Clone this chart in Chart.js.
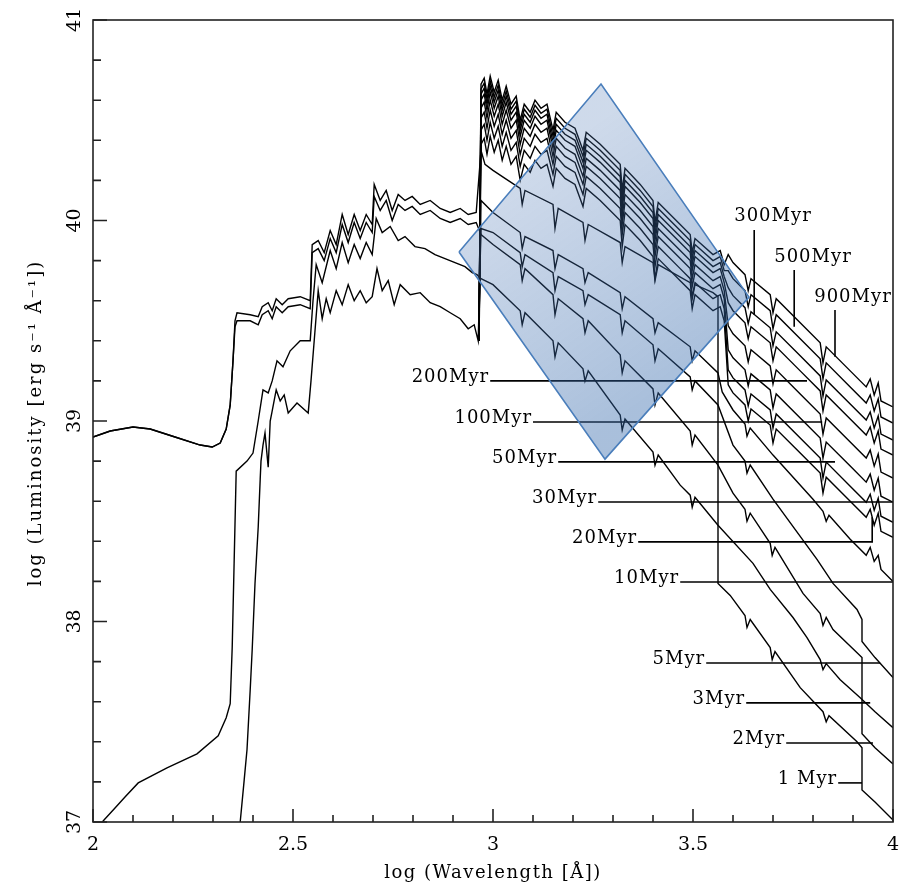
<!DOCTYPE html>
<html>
<head>
<meta charset="utf-8">
<script src="https://cdn.jsdelivr.net/npm/chart.js@4.4.1/dist/chart.umd.min.js"></script>
<style>
  html, body { margin: 0; padding: 0; background: #fff; }
  canvas { display: block; }
</style>
</head>
<body>
<canvas id="sedChart" width="900" height="887"></canvas>
<script>
// axis ticks
const xTickValues = [2, 2.5, 3, 3.5, 4];
const xTickLabels = ['2', '2.5', '3', '3.5', '4'];
const xMinorTicks = [2.1, 2.2, 2.3, 2.4, 2.6, 2.7, 2.8, 2.9, 3.1, 3.2, 3.3, 3.4, 3.6, 3.7, 3.8, 3.9];
const yTickValues = [37, 38, 39, 40, 41];
const yTickLabels = ['37', '38', '39', '40', '41'];
const yMinorTicks = [37.2, 37.4, 37.6, 37.8, 38.2, 38.4, 38.6, 38.8, 39.2, 39.4, 39.6, 39.8, 40.2, 40.4, 40.6, 40.8];

// old populations share one wavelength grid (they start at the Lyman limit)
const oldWave = [2.965, 2.970, 2.978, 2.985, 2.993, 3.003, 3.013, 3.023, 3.033, 3.045, 3.058, 3.068, 3.078, 3.093, 3.105, 3.120, 3.135,
  3.150, 3.158, 3.180, 3.205, 3.225, 3.233, 3.268, 3.318, 3.323, 3.330, 3.368, 3.400, 3.405, 3.413, 3.468, 3.493, 3.498, 3.505, 3.550, 3.568, 3.578,
  3.588, 3.600, 3.630, 3.638, 3.645, 3.693, 3.700, 3.708, 3.768, 3.818, 3.825, 3.833, 3.893, 3.933, 3.943, 3.953, 3.963, 3.970, 4.000];

const lum900Myr = [39.40, 40.68, 40.71, 40.63, 40.72, 40.64, 40.70, 40.60, 40.67, 40.58, 40.62, 40.50, 40.58, 40.54, 40.60, 40.56, 40.58,
  40.45, 40.54, 40.49, 40.46, 40.35, 40.44, 40.38, 40.28, 40.15, 40.26, 40.18, 40.10, 39.99, 40.09, 39.98, 39.93, 39.84, 39.91, 39.83, 39.85, 39.78,
  39.83, 39.79, 39.73, 39.65, 39.71, 39.63, 39.54, 39.61, 39.49, 39.39, 39.29, 39.37, 39.25, 39.17, 39.21, 39.13, 39.19, 39.10, 39.07];
const lum500Myr = [39.40, 40.655, 40.685, 40.605, 40.695, 40.615, 40.675, 40.575, 40.645, 40.555, 40.595, 40.475, 40.555, 40.515, 40.575, 40.535, 40.555,
  40.42, 40.51, 40.46, 40.43, 40.32, 40.41, 40.35, 40.25, 40.12, 40.23, 40.15, 40.07, 39.96, 40.06, 39.95, 39.90, 39.81, 39.88, 39.80, 39.82, 39.75,
  39.75, 39.71, 39.65, 39.57, 39.63, 39.55, 39.46, 39.53, 39.41, 39.31, 39.21, 39.29, 39.17, 39.09, 39.13, 39.05, 39.11, 39.02, 38.99];
const lum300Myr = [39.40, 40.63, 40.66, 40.58, 40.67, 40.59, 40.65, 40.55, 40.62, 40.53, 40.57, 40.45, 40.53, 40.49, 40.55, 40.51, 40.53,
  40.39, 40.48, 40.43, 40.40, 40.29, 40.38, 40.32, 40.22, 40.09, 40.20, 40.12, 40.04, 39.93, 40.03, 39.92, 39.87, 39.78, 39.85, 39.77, 39.79, 39.72,
  39.665, 39.625, 39.565, 39.485, 39.545, 39.465, 39.375, 39.445, 39.325, 39.225, 39.125, 39.205, 39.085, 39.005, 39.045, 38.965, 39.025, 38.935, 38.905];
const lum200Myr = [39.40, 40.60, 40.63, 40.55, 40.64, 40.56, 40.62, 40.52, 40.59, 40.50, 40.54, 40.42, 40.50, 40.46, 40.52, 40.48, 40.50,
  40.36, 40.45, 40.40, 40.37, 40.26, 40.35, 40.29, 40.19, 40.06, 40.17, 40.09, 40.01, 39.90, 40.00, 39.89, 39.84, 39.75, 39.82, 39.74, 39.76, 39.69,
  39.59, 39.55, 39.49, 39.41, 39.47, 39.39, 39.30, 39.37, 39.25, 39.15, 39.05, 39.13, 39.01, 38.93, 38.97, 38.89, 38.95, 38.86, 38.83];
const lum100Myr = [39.40, 40.56, 40.59, 40.51, 40.60, 40.52, 40.58, 40.48, 40.55, 40.46, 40.50, 40.38, 40.46, 40.42, 40.48, 40.44, 40.46,
  40.32, 40.41, 40.36, 40.33, 40.22, 40.31, 40.25, 40.15, 40.02, 40.13, 40.05, 39.97, 39.86, 39.96, 39.85, 39.80, 39.71, 39.78, 39.70, 39.72, 39.65,
  39.475, 39.435, 39.375, 39.295, 39.355, 39.275, 39.185, 39.255, 39.135, 39.035, 38.935, 39.015, 38.895, 38.815, 38.855, 38.775, 38.835, 38.745, 38.715];
const lum50Myr = [39.40, 40.51, 40.54, 40.46, 40.55, 40.47, 40.53, 40.43, 40.50, 40.41, 40.45, 40.33, 40.41, 40.37, 40.43, 40.39, 40.41,
  40.28, 40.37, 40.32, 40.29, 40.18, 40.27, 40.21, 40.11, 39.98, 40.09, 40.01, 39.93, 39.82, 39.92, 39.81, 39.76, 39.67, 39.74, 39.66, 39.68, 39.61,
  39.355, 39.315, 39.255, 39.175, 39.235, 39.155, 39.065, 39.135, 39.015, 38.915, 38.815, 38.895, 38.775, 38.695, 38.735, 38.655, 38.715, 38.625, 38.595];
const lum30Myr = [39.40, 40.45, 40.48, 40.40, 40.49, 40.41, 40.47, 40.37, 40.44, 40.35, 40.39, 40.27, 40.35, 40.31, 40.37, 40.33, 40.35,
  40.23, 40.32, 40.27, 40.24, 40.13, 40.22, 40.16, 40.06, 39.93, 40.04, 39.96, 39.88, 39.77, 39.87, 39.76, 39.71, 39.62, 39.69, 39.61, 39.63, 39.56,
  39.255, 39.215, 39.155, 39.075, 39.135, 39.055, 38.965, 39.035, 38.915, 38.815, 38.715, 38.795, 38.675, 38.595, 38.635, 38.555, 38.615, 38.525, 38.495];
const lum20Myr = [39.40, 40.38, 40.41, 40.33, 40.42, 40.34, 40.40, 40.30, 40.37, 40.28, 40.32, 40.20, 40.28, 40.24, 40.30, 40.26, 40.28,
  40.17, 40.26, 40.21, 40.18, 40.07, 40.16, 40.10, 40.00, 39.87, 39.98, 39.90, 39.82, 39.71, 39.81, 39.70, 39.65, 39.56, 39.63, 39.55, 39.57, 39.50,
  39.18, 39.14, 39.08, 39.00, 39.06, 38.98, 38.89, 38.96, 38.84, 38.74, 38.64, 38.72, 38.60, 38.52, 38.56, 38.48, 38.54, 38.45, 38.42];

// young populations: [log wavelength, log luminosity]
const spec1Myr = [[2.000,38.92],[2.043,38.95],[2.100,38.97],[2.143,38.96],[2.205,38.92],[2.268,38.88],[2.298,38.87],[2.318,38.89],[2.333,38.96],[2.343,39.08],[2.350,39.30],[2.355,39.50],[2.360,39.54],[2.393,39.53],[2.413,39.52],[2.423,39.57],[2.438,39.59],[2.448,39.55],[2.458,39.61],[2.473,39.58],[2.488,39.61],[2.518,39.62],[2.543,39.60],[2.548,39.88],[2.563,39.90],[2.578,39.84],[2.593,39.95],[2.608,39.88],[2.623,40.03],[2.638,39.93],[2.653,40.03],[2.668,39.95],[2.683,40.03],[2.698,39.98],[2.703,40.18],[2.718,40.10],[2.733,40.15],[2.748,40.05],[2.763,40.13],[2.780,40.10],[2.798,40.12],[2.818,40.08],[2.843,40.10],[2.868,40.06],[2.893,40.04],[2.918,40.06],[2.938,40.03],[2.958,40.04],
  [2.970,40.35],[2.980,40.28],[3.000,40.25],[3.030,40.21],[3.068,40.16],[3.073,40.08],[3.080,40.15],[3.150,40.08],[3.155,39.96],[3.163,40.06],[3.225,39.99],[3.230,39.90],[3.238,39.98],[3.318,39.89],[3.323,39.79],[3.330,39.87],[3.400,39.79],[3.405,39.70],[3.413,39.78],[3.493,39.69],[3.498,39.61],[3.505,39.68],[3.550,39.64],[3.5625,39.62],[3.5625,38.19],[3.593,38.13],[3.630,38.03],[3.635,37.97],[3.643,38.01],[3.693,37.87],[3.698,37.81],[3.705,37.85],[3.768,37.67],[3.825,37.55],[3.833,37.50],[3.840,37.53],[3.910,37.40],[3.9225,37.37],[3.9225,37.16],[3.955,37.10],[4.000,37.01]];
const spec2Myr = [[2.000,38.92],[2.043,38.95],[2.100,38.97],[2.143,38.96],[2.205,38.92],[2.268,38.88],[2.298,38.87],[2.318,38.89],[2.333,38.96],[2.343,39.08],[2.350,39.30],[2.355,39.47],[2.360,39.50],[2.393,39.50],[2.413,39.48],[2.423,39.53],[2.438,39.55],[2.448,39.51],[2.458,39.57],[2.473,39.54],[2.488,39.57],[2.518,39.58],[2.543,39.56],[2.548,39.84],[2.563,39.86],[2.578,39.80],[2.593,39.91],[2.608,39.84],[2.623,39.98],[2.638,39.89],[2.653,39.99],[2.668,39.91],[2.683,39.99],[2.698,39.94],[2.703,40.12],[2.718,40.05],[2.733,40.10],[2.748,40.00],[2.763,40.08],[2.780,40.05],[2.798,40.07],[2.818,40.03],[2.843,40.05],[2.868,40.01],[2.893,39.99],[2.918,40.01],[2.938,39.98],[2.958,39.99],
  [2.970,39.93],[3.000,39.88],[3.068,39.78],[3.073,39.70],[3.080,39.76],[3.150,39.63],[3.155,39.53],[3.163,39.61],[3.225,39.51],[3.230,39.44],[3.238,39.50],[3.318,39.33],[3.323,39.24],[3.330,39.30],[3.400,39.16],[3.405,39.08],[3.413,39.14],[3.493,38.95],[3.498,38.88],[3.505,38.93],[3.5625,38.78],[3.600,38.64],[3.630,38.56],[3.635,38.50],[3.643,38.54],[3.693,38.39],[3.698,38.33],[3.705,38.37],[3.775,38.14],[3.818,38.04],[3.825,37.98],[3.833,38.02],[3.850,37.96],[3.9225,37.82],[3.9225,37.44],[3.955,37.37],[4.000,37.29]];
const spec3Myr = [[2.023,37.00],[2.055,37.07],[2.080,37.125],[2.113,37.195],[2.185,37.27],[2.260,37.34],[2.313,37.43],[2.333,37.52],[2.343,37.59],[2.348,37.87],[2.353,38.31],[2.358,38.75],[2.385,38.80],[2.400,38.84],[2.413,39.00],[2.425,39.155],[2.438,39.14],[2.448,39.20],[2.460,39.30],[2.475,39.27],[2.493,39.35],[2.518,39.40],[2.543,39.40],[2.550,39.60],[2.558,39.78],[2.573,39.69],[2.593,39.85],[2.608,39.76],[2.623,39.89],[2.638,39.79],[2.653,39.88],[2.668,39.81],[2.683,39.89],[2.698,39.83],[2.708,40.01],[2.723,39.94],[2.743,39.97],[2.763,39.90],[2.780,39.92],[2.805,39.87],[2.830,39.86],[2.855,39.83],[2.880,39.81],[2.905,39.79],[2.930,39.77],[2.948,39.74],[2.960,39.73],
  [2.970,39.71],[3.000,39.68],[3.068,39.55],[3.073,39.48],[3.080,39.54],[3.150,39.40],[3.155,39.32],[3.163,39.39],[3.225,39.26],[3.230,39.20],[3.238,39.25],[3.318,39.03],[3.323,38.955],[3.330,39.01],[3.400,38.845],[3.405,38.78],[3.413,38.83],[3.468,38.68],[3.493,38.63],[3.498,38.57],[3.505,38.62],[3.5625,38.48],[3.650,38.29],[3.693,38.16],[3.750,38.02],[3.785,37.92],[3.818,37.81],[3.825,37.76],[3.833,37.79],[3.868,37.71],[3.918,37.62],[3.955,37.55],[4.000,37.47]];
const spec5Myr = [[2.368,37.00],[2.378,37.21],[2.385,37.36],[2.393,37.66],[2.398,37.86],[2.405,38.19],[2.413,38.47],[2.418,38.71],[2.420,38.80],[2.425,38.88],[2.430,38.94],[2.438,38.77],[2.443,39.00],[2.448,39.05],[2.458,39.155],[2.468,39.10],[2.478,39.13],[2.488,39.04],[2.510,39.09],[2.538,39.04],[2.545,39.20],[2.553,39.40],[2.563,39.65],[2.573,39.51],[2.583,39.61],[2.593,39.54],[2.608,39.65],[2.623,39.58],[2.638,39.68],[2.653,39.60],[2.668,39.65],[2.683,39.59],[2.698,39.62],[2.710,39.76],[2.723,39.65],[2.738,39.70],[2.753,39.58],[2.768,39.68],[2.793,39.63],[2.818,39.64],[2.843,39.59],[2.868,39.57],[2.893,39.54],[2.918,39.51],[2.938,39.46],[2.953,39.48],[2.963,39.40],
  [2.970,39.96],[3.000,39.94],[3.068,39.84],[3.073,39.77],[3.080,39.83],[3.150,39.74],[3.155,39.65],[3.163,39.72],[3.225,39.65],[3.230,39.58],[3.238,39.63],[3.318,39.53],[3.323,39.44],[3.330,39.50],[3.400,39.38],[3.405,39.30],[3.413,39.36],[3.493,39.22],[3.498,39.155],[3.505,39.20],[3.5625,39.08],[3.600,38.88],[3.630,38.80],[3.635,38.74],[3.643,38.78],[3.700,38.61],[3.810,38.31],[3.850,38.19],[3.910,38.06],[3.9225,38.01],[3.9225,37.90],[3.955,37.82],[4.000,37.72]];
const spec10Myr = [[2.965,39.40],[2.970,40.10],[3.000,40.04],[3.068,39.94],[3.073,39.86],[3.080,39.92],[3.150,39.85],[3.155,39.76],[3.163,39.83],[3.225,39.76],[3.230,39.69],[3.238,39.74],[3.318,39.64],[3.323,39.56],[3.330,39.62],[3.400,39.51],[3.405,39.44],[3.413,39.49],[3.493,39.37],[3.498,39.30],[3.505,39.35],[3.5625,39.24],[3.573,39.145],[3.600,39.055],[3.630,38.985],[3.635,38.925],[3.643,38.965],[3.700,38.83],[3.800,38.61],[3.825,38.55],[3.833,38.50],[3.840,38.53],[3.893,38.41],[3.933,38.33],[3.943,38.37],[3.953,38.30],[3.963,38.33],[3.970,38.26],[4.000,38.20]];

// shaded highlight box (corners in data units)
const boxWave = [2.915, 3.270, 3.640, 3.280, 2.915];
const boxLum = [39.843, 40.681, 39.618, 38.810, 39.843];

// age labels with their pointer lines
const ageLabels = ['1 Myr', '2Myr', '3Myr', '5Myr', '10Myr', '20Myr', '30Myr', '50Myr', '100Myr', '200Myr'];
const pointerLines = [
  [[3.863, 37.195], [3.9225, 37.195]],
  [[3.733, 37.394], [3.950, 37.394]],
  [[3.633, 37.594], [3.943, 37.594]],
  [[3.533, 37.793], [3.968, 37.793]],
  [[3.468, 38.197], [4.000, 38.197]],
  [[3.363, 38.397], [3.948, 38.397], [3.948, 38.52]],
  [[3.263, 38.596], [4.000, 38.596]],
  [[3.163, 38.796], [3.855, 38.796]],
  [[3.100, 38.995], [3.823, 38.995]],
  [[2.993, 39.200], [3.785, 39.200]]
];
const topLabels = ['300Myr', '500Myr', '900Myr'];
const topLabelWave = [3.70, 3.80, 3.90];
const topLabelLum = [40.00, 39.793, 39.594];
const topPointers = [
  [[3.653, 39.953], [3.653, 39.53]],
  [[3.753, 39.753], [3.753, 39.47]],
  [[3.855, 39.554], [3.855, 39.32]]
];

const FONT = '"DejaVu Serif", "Liberation Serif", serif';

function line(points, width, order) {
  return {
    data: points, showLine: true, borderColor: '#000', borderWidth: width,
    pointRadius: 0, tension: 0, fill: false, order: order
  };
}

const datasets = [];
const oldSeries = [lum900Myr, lum500Myr, lum300Myr, lum200Myr, lum100Myr, lum50Myr, lum30Myr, lum20Myr];
oldSeries.forEach(lum => datasets.push(line(oldWave.map((w, i) => [w, lum[i]]), 1.4, 3)));
[spec1Myr, spec2Myr, spec3Myr, spec5Myr, spec10Myr].forEach(s => datasets.push(line(s, 1.4, 3)));
pointerLines.forEach(p => datasets.push(line(p, 1.6, 2)));
topPointers.forEach(p => datasets.push(line(p, 1.6, 2)));

datasets.push({
  data: boxWave.map((w, i) => [w, boxLum[i]]),
  showLine: true, pointRadius: 0, tension: 0, order: 0,
  borderColor: '#4a7ebb', borderWidth: 1.6,
  fill: 'shape',
  backgroundColor(context) {
    const chart = context.chart;
    if (!chart.chartArea) return 'rgba(70,115,180,0.35)';
    const xs = chart.scales.x, ys = chart.scales.y;
    const g = chart.ctx.createLinearGradient(
      xs.getPixelForValue(3.09), ys.getPixelForValue(40.26),
      xs.getPixelForValue(3.46), ys.getPixelForValue(39.21));
    g.addColorStop(0, 'rgba(75,118,180,0.27)');
    g.addColorStop(1, 'rgba(50,103,170,0.42)');
    return g;
  }
});

const decorations = {
  id: 'decorations',
  afterDatasetsDraw(chart) {
    const ctx = chart.ctx, a = chart.chartArea;
    const xs = chart.scales.x, ys = chart.scales.y;
    ctx.save();
    ctx.strokeStyle = '#222';
    ctx.lineWidth = 1.6;
    ctx.strokeRect(a.left, a.top, a.right - a.left, a.bottom - a.top);

    ctx.beginPath();
    xMinorTicks.forEach(v => { const p = xs.getPixelForValue(v); ctx.moveTo(p, a.bottom); ctx.lineTo(p, a.bottom - 7); });
    xTickValues.forEach(v => { const p = xs.getPixelForValue(v); ctx.moveTo(p, a.bottom); ctx.lineTo(p, a.bottom - 13); });
    yMinorTicks.forEach(v => { const p = ys.getPixelForValue(v); ctx.moveTo(a.left, p); ctx.lineTo(a.left + 8, p); });
    yTickValues.forEach(v => { const p = ys.getPixelForValue(v); ctx.moveTo(a.left, p); ctx.lineTo(a.left + 14, p); });
    ctx.stroke();

    ctx.fillStyle = '#000';
    ctx.font = '19px ' + FONT;
    ctx.textAlign = 'center';
    ctx.textBaseline = 'alphabetic';
    xTickValues.forEach((v, i) => ctx.fillText(xTickLabels[i], xs.getPixelForValue(v), a.bottom + 28));
    yTickValues.forEach((v, i) => {
      ctx.save();
      ctx.translate(a.left - 13, ys.getPixelForValue(v));
      ctx.rotate(-Math.PI / 2);
      ctx.fillText(yTickLabels[i], 0, 0);
      ctx.restore();
    });

    // axis titles
    ctx.font = '18px ' + FONT;
    ctx.letterSpacing = '1.5px';
    ctx.fillText('log (Wavelength [Å])', xs.getPixelForValue(3), a.bottom + 56);
    ctx.save();
    ctx.letterSpacing = '2px';
    ctx.translate(41, (a.top + a.bottom) / 2 + 2);
    ctx.rotate(-Math.PI / 2);
    ctx.fillText('log (Luminosity [erg s\u207B\u00B9 \u00C5\u207B\u00B9])', 0, 0);
    ctx.restore();

    // age labels
    ctx.font = '18px ' + FONT;
    ctx.letterSpacing = '1px';
    ctx.textAlign = 'right';
    pointerLines.forEach((p, i) => {
      ctx.fillText(ageLabels[i], xs.getPixelForValue(p[0][0]) - 1, ys.getPixelForValue(p[0][1]) + 1);
    });
    ctx.textAlign = 'center';
    topLabels.forEach((t, i) => {
      ctx.fillText(t, xs.getPixelForValue(topLabelWave[i]), ys.getPixelForValue(topLabelLum[i]));
    });
    ctx.restore();
  }
};

new Chart(document.getElementById('sedChart'), {
  type: 'scatter',
  data: { datasets: datasets },
  options: {
    responsive: false,
    animation: false,
    devicePixelRatio: 1,
    layout: { padding: { top: 20, right: 7, left: 0, bottom: 0 } },
    plugins: { legend: { display: false }, tooltip: { enabled: false } },
    scales: {
      x: {
        type: 'linear', min: 2, max: 4,
        ticks: { display: false }, grid: { display: false }, border: { display: false },
        afterFit(scale) { scale.height = 65; }
      },
      y: {
        type: 'linear', min: 37, max: 41,
        ticks: { display: false }, grid: { display: false }, border: { display: false },
        afterFit(scale) { scale.width = 93; }
      }
    }
  },
  plugins: [decorations]
});
</script>
</body>
</html>
